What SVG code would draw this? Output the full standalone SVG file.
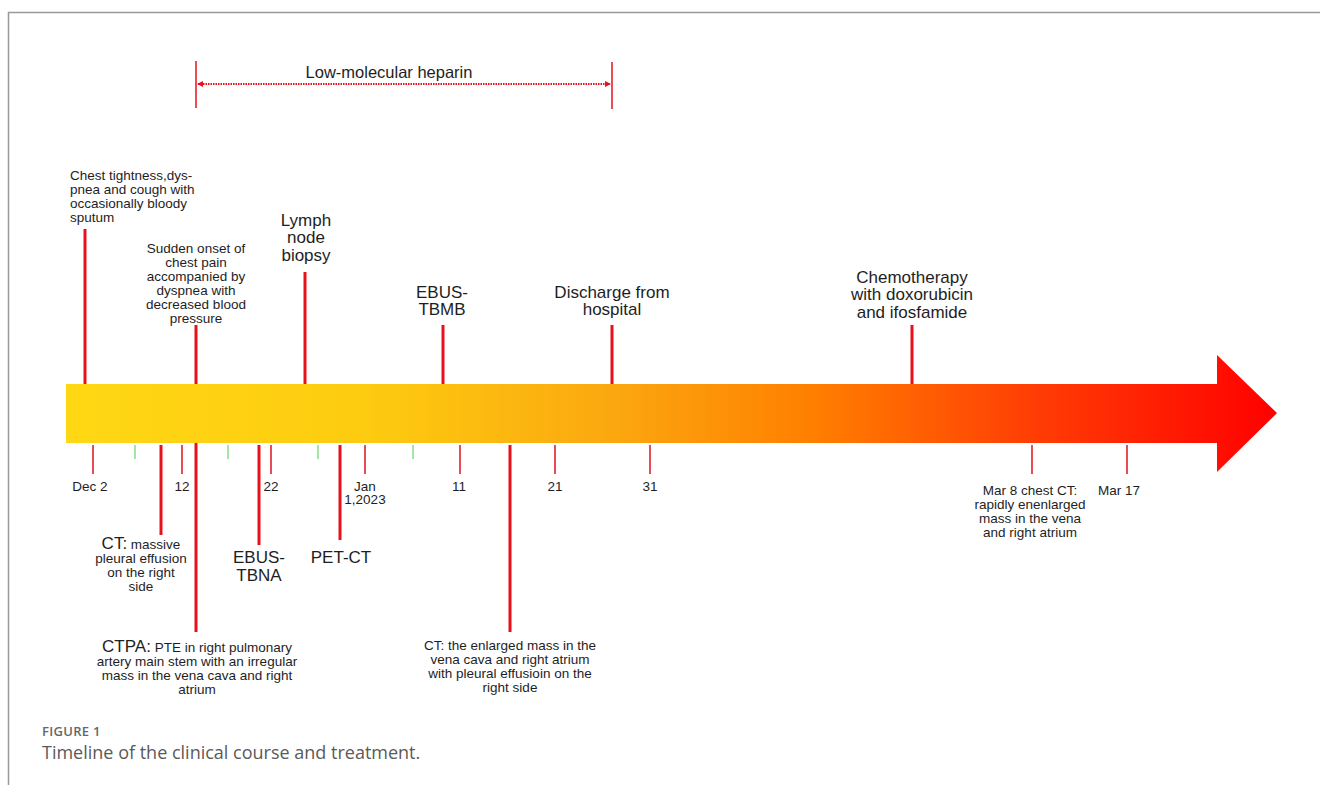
<svg xmlns="http://www.w3.org/2000/svg" width="1320" height="785" viewBox="0 0 1320 785">
<style>
.t{font-family:"Liberation Sans",Arial,sans-serif;fill:#1e1e1e;text-anchor:middle}
.s{font-size:13.5px}
.l{font-size:17px}
.ev{stroke:#E8101A;stroke-width:3;fill:none}
.tk{stroke:#E0202A;stroke-width:1.6}
.gk{stroke:#8EE08E;stroke-width:1.6}
</style>
<defs>
<linearGradient id="g" x1="66" y1="0" x2="1277" y2="0" gradientUnits="userSpaceOnUse">
<stop offset="0" stop-color="#FFD814"/>
<stop offset="0.25" stop-color="#FDCB10"/>
<stop offset="0.45" stop-color="#FBA80F"/>
<stop offset="0.62" stop-color="#FF7E00"/>
<stop offset="0.8" stop-color="#FF3D05"/>
<stop offset="1" stop-color="#FF0000"/>
</linearGradient>
<marker id="ah" viewBox="0 0 6 6" refX="5" refY="3" markerWidth="6" markerHeight="6" orient="auto-start-reverse" markerUnits="userSpaceOnUse"><path d="M0,0 L6,3 L0,6 z" fill="#E8101A"/></marker>
</defs>
<rect width="1320" height="785" fill="#fff"/>
<path d="M8.5,785 V12.5 H1320" fill="none" stroke="#999" stroke-width="1.5"/>

<g id="heparin">
<line class="ev" x1="196" y1="61" x2="196" y2="108" style="stroke-width:1.5"/>
<line class="ev" x1="612" y1="62" x2="612" y2="109" style="stroke-width:1.5"/>
<line x1="198" y1="84" x2="610" y2="84" stroke="#E8101A" stroke-width="1.8" stroke-dasharray="1.5 1" marker-start="url(#ah)" marker-end="url(#ah)"/>
<text class="t" x="389" y="78" style="font-size:16.5px">Low-molecular heparin</text>
</g>

<g id="timeline">
<path d="M66,384 H1217 V355 L1277,413 L1217,472 V443 H66 z" fill="url(#g)"/>
</g>

<g id="connectors">
<line class="ev" x1="85" y1="229" x2="85" y2="384"/>
<line class="ev" x1="196" y1="325" x2="196" y2="384"/>
<line class="ev" x1="305" y1="272" x2="305" y2="384"/>
<line class="ev" x1="443" y1="325" x2="443" y2="384"/>
<line class="ev" x1="612" y1="325" x2="612" y2="384"/>
<line class="ev" x1="912" y1="325" x2="912" y2="384"/>
<line class="ev" x1="196" y1="443" x2="196" y2="632"/>
<line class="ev" x1="161" y1="445" x2="161" y2="535"/>
<line class="ev" x1="259" y1="445" x2="259" y2="545"/>
<line class="ev" x1="340" y1="445" x2="340" y2="540"/>
<line class="ev" x1="510" y1="445" x2="510" y2="632"/>
<line class="tk" x1="93" y1="445" x2="93" y2="474"/>
<line class="tk" x1="182" y1="445" x2="182" y2="474"/>
<line class="tk" x1="271" y1="445" x2="271" y2="474"/>
<line class="tk" x1="365" y1="445" x2="365" y2="474"/>
<line class="tk" x1="460" y1="445" x2="460" y2="474"/>
<line class="tk" x1="555" y1="445" x2="555" y2="474"/>
<line class="tk" x1="650" y1="445" x2="650" y2="474"/>
<line class="tk" x1="1032" y1="445" x2="1032" y2="474"/>
<line class="tk" x1="1127" y1="445" x2="1127" y2="474"/>
<line class="gk" x1="135" y1="445" x2="135" y2="459"/>
<line class="gk" x1="228" y1="445" x2="228" y2="459"/>
<line class="gk" x1="318" y1="445" x2="318" y2="459"/>
<line class="gk" x1="413" y1="445" x2="413" y2="459"/>
</g>

<g id="dates" class="t s">
<text x="90" y="491">Dec 2</text>
<text x="182" y="491">12</text>
<text x="271" y="491">22</text>
<text x="365" y="491">Jan</text>
<text x="365" y="504">1,2023</text>
<text x="459" y="491">11</text>
<text x="555" y="491">21</text>
<text x="650" y="491">31</text>
<text x="1119" y="495">Mar 17</text>
</g>

<g id="ev-chest-tightness" class="t s" style="text-anchor:start">
<text x="70" y="180">Chest tightness,dys-</text>
<text x="70" y="194">pnea and cough with</text>
<text x="70" y="208">occasionally bloody</text>
<text x="70" y="222">sputum</text>
</g>
<g id="ev-sudden-onset" class="t s">
<text x="196" y="253">Sudden onset of</text>
<text x="196" y="267">chest pain</text>
<text x="196" y="281">accompanied by</text>
<text x="196" y="295">dyspnea with</text>
<text x="196" y="309">decreased blood</text>
<text x="196" y="323">pressure</text>
</g>
<g id="ev-lymph" class="t l">
<text x="306" y="226">Lymph</text>
<text x="306" y="243">node</text>
<text x="306" y="261">biopsy</text>
</g>
<g id="ev-ebus-tbmb" class="t l">
<text x="442" y="298">EBUS-</text>
<text x="442" y="315">TBMB</text>
</g>
<g id="ev-discharge" class="t l">
<text x="612" y="298">Discharge from</text>
<text x="612" y="315">hospital</text>
</g>
<g id="ev-chemo" class="t l">
<text x="912" y="283">Chemotherapy</text>
<text x="912" y="300">with doxorubicin</text>
<text x="912" y="318">and ifosfamide</text>
</g>
<g id="ev-ct-effusion" class="t s">
<text x="141" y="549"><tspan style="font-size:17px">CT:</tspan> massive</text>
<text x="141" y="563">pleural effusion</text>
<text x="141" y="577">on the right</text>
<text x="141" y="591">side</text>
</g>
<g id="ev-ebus-tbna" class="t l">
<text x="259" y="563">EBUS-</text>
<text x="259" y="581">TBNA</text>
</g>
<g id="ev-petct" class="t l">
<text x="341" y="563">PET-CT</text>
</g>
<g id="ev-ctpa" class="t s">
<text x="197" y="652"><tspan style="font-size:17px">CTPA:</tspan> PTE in right pulmonary</text>
<text x="197" y="666">artery main stem with an irregular</text>
<text x="197" y="680">mass in the vena cava and right</text>
<text x="197" y="694">atrium</text>
</g>
<g id="ev-ct-enlarged" class="t s">
<text x="510" y="650">CT: the enlarged mass in the</text>
<text x="510" y="664">vena cava and right atrium</text>
<text x="510" y="678">with pleural effusioin on the</text>
<text x="510" y="692">right side</text>
</g>
<g id="ev-mar8" class="t s">
<text x="1030" y="495">Mar 8 chest CT:</text>
<text x="1030" y="509">rapidly enenlarged</text>
<text x="1030" y="523">mass in the vena</text>
<text x="1030" y="537">and right atrium</text>
</g>

<g id="caption" style="font-family:'Open Sans','Noto Sans',sans-serif">
<text x="42" y="736" style="font-size:13px;fill:#666;font-weight:600;letter-spacing:0.3px">FIGURE 1</text>
<text x="42" y="759" style="font-size:18px;fill:#5a5a5a">Timeline of the clinical course and treatment.</text>
</g>
</svg>
